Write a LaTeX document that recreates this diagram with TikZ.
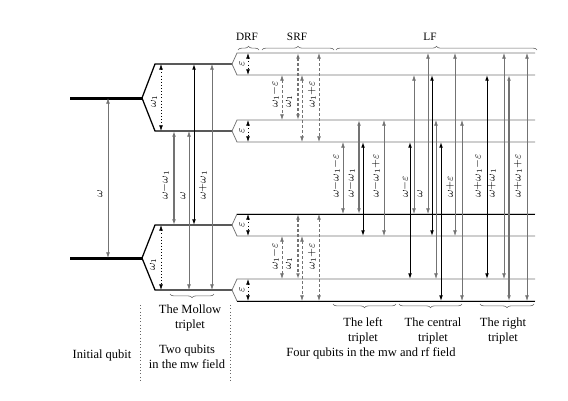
\documentclass[tikz,border=0pt]{standalone}
\usepackage{fontspec}
\setmainfont{Liberation Serif}
\usetikzlibrary{arrows.meta,decorations.pathreplacing}

\begin{document}
\begin{tikzpicture}[x=0.8pt,y=-0.8pt,
    tr/.style={{Latex[length=4.5pt,width=3pt]}-{Latex[length=4.5pt,width=3pt]}, line width=0.5pt, black!55},
    trb/.style={tr, black, line width=0.8pt},
    trg/.style={tr, line width=1.2pt},
    srf/.style={dash pattern=on 2.5pt off 1.5pt},
    lbl/.style={rotate=90, anchor=west, font=\small, inner sep=0pt},
    lev/.style={line width=0.6pt, black!55},
    brc/.style={decorate, decoration={brace, amplitude=3pt}, black!60, line width=0.5pt},
    sep/.style={dotted, black!60, line width=0.6pt}]
  \useasboundingbox (0,0) rectangle (568,400);

  % initial qubit and the Mollow levels
  \draw[line width=2.4pt] (70,98) -- (142,98);
  \draw[line width=2.4pt] (70,258) -- (142,258);
  \draw[line width=1pt] (232,64) -- (155,64) -- (142,98) -- (155,131) -- (232,131);
  \draw[line width=1pt] (232,225) -- (155,225) -- (142,258) -- (155,290) -- (232,290);

  % each level split by the rf field
  \foreach \y in {64,131,225,290} {
    \draw[lev] (535,\y-11) -- (237,\y-11) -- (232,\y) -- (237,\y+11) -- (535,\y+11);
    \draw[tr, black, dotted] (248,\y-11) -- (248,\y+11);
    \node[lbl, anchor=center] (eps\y) at (242,\y) {$\varepsilon$};
  }
  \draw[line width=0.8pt] (237,214) -- (535,214);
  \draw[line width=0.8pt] (237,301) -- (535,301);

  % transitions
  \draw[tr] (108,98) -- (108,258);
  \draw[tr, black, dotted] (161,64) -- (161,131);
  \draw[tr, black, dotted] (161,225) -- (161,290);
  \foreach \x/\a/\b in {189/131/290, 212/64/290}
    \draw[tr] (\x,\a) -- (\x,\b);
  \draw[trg] (174,131) -- (174,225);
  \draw[trb] (194,64) -- (194,225);

  \foreach \x/\a/\b in {282/75/120, 302/75/142, 319/53/142, 282/236/279, 302/236/301, 319/214/301}
    \draw[tr, srf] (\x,\a) -- (\x,\b);
  \foreach \x/\a/\b in {298/53/120, 298/214/279}
    \draw[tr, srf, line width=1pt] (\x,\a) -- (\x,\b);

  \foreach \x/\a/\b in {343/142/214, 384/120/236, 414/75/214, 428/53/214, 436/120/279, 455/53/236, 462/120/301, 504/53/279, 527/53/301}
    \draw[tr] (\x,\a) -- (\x,\b);
  \foreach \x/\a/\b in {363/142/236, 410/142/279, 432/75/236, 441/142/301, 487/75/279}
    \draw[trb] (\x,\a) -- (\x,\b);
  \foreach \x/\a/\b in {359/120/214, 509/75/301}
    \draw[trg] (\x,\a) -- (\x,\b);

  % frequencies
  \node[lbl] (wI) at (100,198) {$\omega$};
  \node[lbl, anchor=center] (wM1) at (154,101) {$\omega_1$};
  \node[lbl, anchor=center] (wM2) at (153,264) {$\omega_1$};
  \node[lbl] (mL) at (165,200) {$\omega{-}\omega_1$};
  \node[lbl] (mC) at (183,200) {$\omega$};
  \node[lbl] (mR) at (203,200) {$\omega{+}\omega_1$};
  \foreach \y in {108,270} {
    \node[lbl] (sL\y) at (275,\y) {$\omega_1{-}\varepsilon$};
    \node[lbl] (sC\y) at (289,\y) {$\omega_1$};
    \node[lbl] (sR\y) at (312,\y) {$\omega_1{+}\varepsilon$};
  }
  \node[lbl] (lL) at (336,198) {$\omega{-}\omega_1{-}\varepsilon$};
  \node[lbl] (lC) at (351,198) {$\omega{-}\omega_1$};
  \node[lbl] (lR) at (376,198) {$\omega{-}\omega_1{+}\varepsilon$};
  \node[lbl] (cL) at (405,198) {$\omega{-}\varepsilon$};
  \node[lbl] (cC) at (420,198) {$\omega$};
  \node[lbl] (cR) at (450,198) {$\omega{+}\varepsilon$};
  \node[lbl] (rL) at (478,198) {$\omega{+}\omega_1{-}\varepsilon$};
  \node[lbl] (rC) at (492,198) {$\omega{+}\omega_1$};
  \node[lbl] (rR) at (518,198) {$\omega{+}\omega_1{+}\varepsilon$};

  % frames
  \draw[brc] (238,50) -- (259,50);
  \draw[brc] (262,50) -- (334,50);
  \draw[brc] (336,50) -- (537,50);
  \node[font=\small] (drf) at (247,37) {DRF};
  \node[font=\small] (srf) at (297,37) {SRF};
  \node[font=\small] (lf) at (430,37) {LF};

  % triplets and captions
  \draw[brc] (214,294) -- (170,294);
  \draw[brc] (396,304) -- (333,304);
  \draw[brc] (462,304) -- (399,304);
  \draw[brc] (534,304) -- (480,304);
  \node[align=center] (mollow) at (190,318) {The Mollow\\triplet};
  \node[align=center] (left) at (363,331) {The left\\triplet};
  \node[align=center] (central) at (433,331) {The central\\triplet};
  \node[align=center] (right) at (503,331) {The right\\triplet};
  \node (init) at (102,355) {Initial qubit};
  \node[align=center] (two) at (187,357) {Two qubits\\in the mw field};
  \node (four) at (371,353) {Four qubits in the mw and rf field};
  \draw[sep] (140,305) -- (140,380);
  \draw[sep] (230,305) -- (230,380);
\end{tikzpicture}
\end{document}
